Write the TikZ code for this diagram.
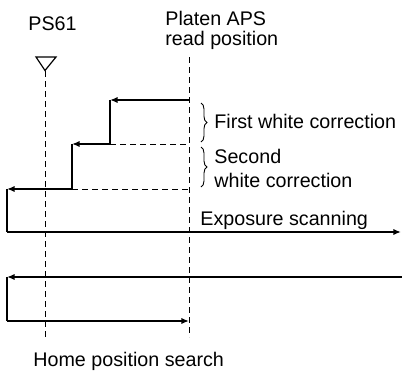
\documentclass[tikz,border=0pt]{standalone}
\usepackage{fontspec}
\setmainfont{Liberation Sans}
\usetikzlibrary{decorations.pathreplacing,arrows.meta}

\tikzset{
    motion/.style={line width=1.3pt, -{Latex[length=3.8pt,width=3.1pt]}},
    guide/.style={line width=0.5pt, dash pattern=on 3pt off 2pt},
    label/.style={anchor=base west, inner sep=0pt, font=\fontsize{9.85}{11}\selectfont},
    bracemark/.style={line width=0.45pt, decorate, decoration={brace, amplitude=3pt}}
}

\begin{document}
\begin{tikzpicture}[x=0.5pt, y=-0.5pt]

    % Frame
    \useasboundingbox (0,0) rectangle (402,370);

    % Labels
    \node[label] (ps) at (28,30) {PS61};
    \node[label] (platen) at (165,25) {Platen APS};
    \node[label] (readpos) at (165,45) {read position};
    \node[label] (first) at (214,128) {First white correction};
    \node[label] (second) at (214,163) {Second};
    \node[label] (secondb) at (214,187) {white correction};
    \node[label] (expo) at (200,225) {Exposure scanning};
    \node[label] (home) at (33,366) {Home position search};

    % Sensor mark and guide lines
    \draw[line width=0.6pt] (36,57) -- (56,57) -- (45,70.5) -- cycle;
    \draw[guide] (45,71) -- (45,337);
    \draw[guide] (189,57) -- (189,337);

    % Corners of the carriage path
    \coordinate (s0) at (189,100);
    \coordinate (s1) at (110,100);
    \coordinate (s2) at (110,144);
    \coordinate (s3) at (72,144);
    \coordinate (s4) at (72,189);
    \coordinate (s5) at (7,189);
    \coordinate (s6) at (7,232);
    \coordinate (s7) at (401,232);
    \coordinate (r0) at (402,277);
    \coordinate (r1) at (7,277);
    \coordinate (r2) at (7,321);
    \coordinate (r3) at (189,321);

    % Dashed levels
    \draw[guide] (s2) -- (189,144);
    \draw[guide] (s4) -- (189,189);

    % White correction steps
    \draw[motion] (s0) -- (s1);
    \draw[line width=1.3pt] (s1) -- (s2);
    \draw[motion] (s2) -- (s3);
    \draw[line width=1.3pt] (s3) -- (s4);
    \draw[motion] (s4) -- (s5);

    % Exposure scanning
    \draw[line width=1.3pt] (s5) -- (s6);
    \draw[motion] (s6) -- (s7);

    % Return and home position search
    \draw[motion] (r0) -- (r1);
    \draw[line width=1.3pt] (r1) -- (r2);
    \draw[motion] (r2) -- (r3);

    % Braces
    \draw[bracemark] (201,103) -- (201,142);
    \draw[bracemark] (201,147) -- (201,187);

\end{tikzpicture}
\end{document}
